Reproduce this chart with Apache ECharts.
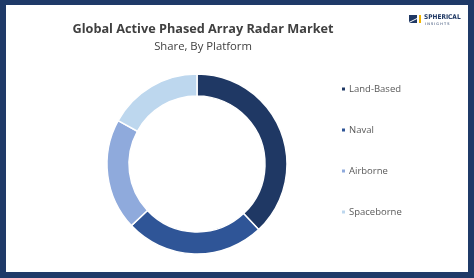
<!DOCTYPE html>
<html><head><meta charset="utf-8">
<script src="https://cdn.jsdelivr.net/npm/echarts@6/dist/echarts.min.js"></script>
<style>html,body{margin:0;padding:0;}#c{width:474px;height:278px;}</style>
</head><body><div id="c"></div>
<script>
const categories = ['Land-Based', 'Naval', 'Airborne', 'Spaceborne'];
const shares = [38, 25, 20, 17];
const colors = ['#1f3864', '#2f5597', '#8faadc', '#bdd7ee'];
const titleText = 'Global Active Phased Array Radar Market';
const subtitleText = 'Share, By Platform';

const chart = echarts.init(document.getElementById('c'), null, {renderer: 'canvas'});
chart.setOption({
  backgroundColor: '#1f3a68',
  animation: false,
  color: colors,
  title: {
    text: titleText,
    subtext: subtitleText,
    left: 198, top: 18, textAlign: 'center',
    itemGap: 5,
    textStyle: {fontFamily: 'Open Sans', fontSize: 12.7, fontWeight: 'bold', color: '#404040'},
    subtextStyle: {fontFamily: 'Open Sans', fontSize: 11.3, color: '#404040'}
  },
  legend: {
    orient: 'vertical', left: 335, top: 79,
    itemWidth: 5, itemHeight: 5, itemGap: 31,
    icon: 'rect',
    textStyle: {fontFamily: 'Open Sans', fontSize: 9.5, color: '#595959', padding: [0, 0, 0, -2]},
    data: categories
  },
  graphic: [
    {type: 'rect', shape: {x: 6, y: 5, width: 462, height: 267}, style: {fill: '#ffffff'}, z: -1},
    {type: 'polygon', shape: {points: [[409, 15], [417, 15], [417, 18], [409, 22]]}, style: {fill: '#1f3864'}},
    {type: 'polygon', shape: {points: [[409, 23], [417, 19], [417, 23]]}, style: {fill: '#1f3864'}},
    {type: 'rect', shape: {x: 419, y: 15, width: 2, height: 8}, style: {fill: '#f0b400'}},
    {type: 'text', left: 424, top: 14, style: {text: 'SPHERICAL', fill: '#1f3864', font: 'bold 6.5px "DejaVu Sans Condensed", sans-serif'}},
    {type: 'text', left: 425, top: 22, style: {text: 'I N S I G H T S', fill: '#1f3864', font: '3.5px "DejaVu Sans", sans-serif'}}
  ],
  series: [{
    type: 'pie',
    center: [197, 164],
    radius: [68, 90],
    startAngle: 90,
    clockwise: true,
    label: {show: false},
    labelLine: {show: false},
    itemStyle: {borderColor: '#ffffff', borderWidth: 1.5},
    data: categories.map((n, i) => ({name: n, value: shares[i]}))
  }]
});
</script></body></html>
